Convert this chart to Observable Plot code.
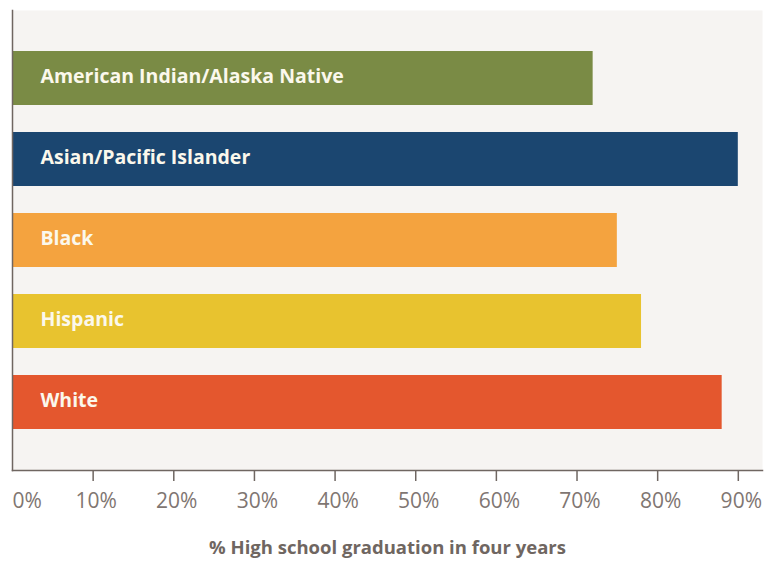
<!DOCTYPE html>
<html>
<head>
<meta charset="utf-8">
<script src="https://cdn.jsdelivr.net/npm/d3@7"></script>
<script src="https://cdn.jsdelivr.net/npm/@observablehq/plot@0.6"></script>
<style>
  html, body { margin: 0; padding: 0; background: #ffffff; }
  #chart svg { display: block; }
</style>
</head>
<body>
<div id="chart"></div>
<script>
const groups = ["American Indian/Alaska Native", "Asian/Pacific Islander", "Black", "Hispanic", "White"];
const rates = [72, 90, 75, 78, 88];
const colors = ["#7a8b45", "#1b4670", "#f4a33f", "#e8c32f", "#e4572e"];
const tickValues = [0, 10, 20, 30, 40, 50, 60, 70, 80, 90];
const tickLabels = ["0%", "10%", "20%", "30%", "40%", "50%", "60%", "70%", "80%", "90%"];
const xLabel = "% High school graduation in four years";

const data = groups.map((g, i) => ({group: g, rate: rates[i], color: colors[i]}));
const ticks = tickValues.map((v, i) => ({v, label: tickLabels[i]}));
const innerTicks = ticks.filter(d => d.v > 0);

const chart = Plot.plot({
  width: 769,
  height: 571,
  marginLeft: 12,
  marginRight: 7,
  marginTop: 10,
  marginBottom: 101,
  style: {background: "#ffffff", fontFamily: "'Open Sans', sans-serif"},
  x: {domain: [0, 93], axis: null},
  y: {domain: groups, axis: null, paddingInner: 0.33, paddingOuter: 0.5},
  marks: [
    Plot.frame({fill: "#f6f4f2", stroke: null}),
    Plot.barX(data, {x: "rate", y: "group", fill: "color"}),
    Plot.text(data, {x: 0, y: "group", text: "group", dx: 28, dy: -2, textAnchor: "start",
      fill: "#fbf8ec", fontSize: 19.5, fontWeight: "bold", fontFamily: "'Open Sans', sans-serif"}),
    Plot.frame({anchor: "left", stroke: "#6f6661", strokeWidth: 1.5}),
    Plot.frame({anchor: "bottom", stroke: "#6f6661", strokeWidth: 1.5}),
    Plot.axisX(innerTicks.map(d => d.v), {tickSize: 11, tickFormat: () => "", stroke: "#6f6661", strokeWidth: 1.5, label: null}),
    Plot.text(innerTicks, {x: "v", text: "label", frameAnchor: "bottom", dy: 37, dx: 3,
      fill: "#7f7672", fontSize: 21, fontFamily: "'Open Sans', sans-serif"}),
    Plot.text(ticks.filter(d => d.v === 0), {x: "v", text: "label", frameAnchor: "bottom", dy: 37, textAnchor: "start",
      fill: "#7f7672", fontSize: 21, fontFamily: "'Open Sans', sans-serif"}),
    Plot.text([xLabel], {frameAnchor: "bottom", text: d => d, dy: 83,
      fill: "#6f6661", fontSize: 18.5, fontWeight: "bold", fontFamily: "'Open Sans', sans-serif"})
  ]
});
document.getElementById("chart").appendChild(chart);
</script>
</body>
</html>
